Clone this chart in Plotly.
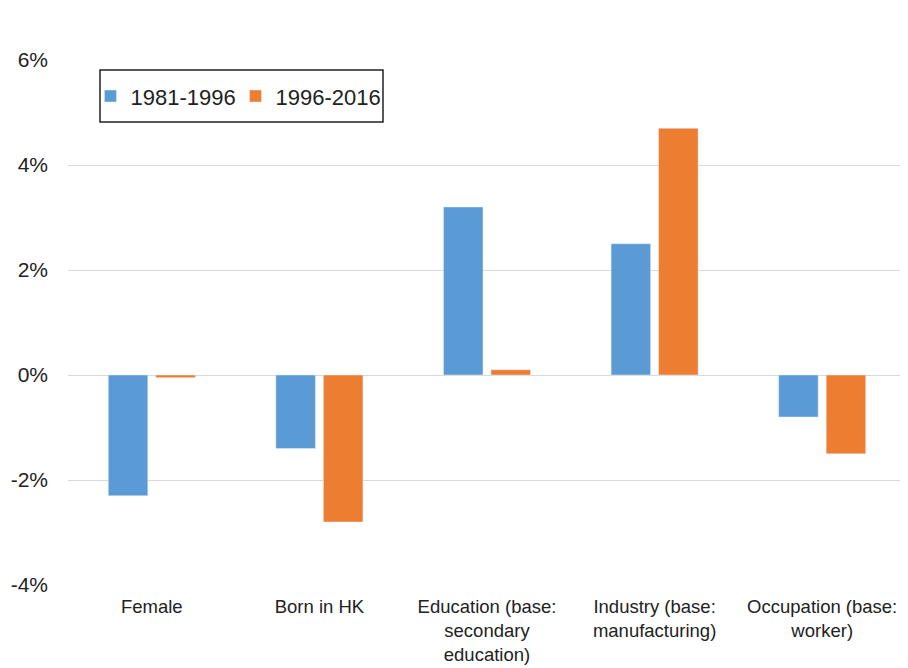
import plotly.graph_objects as go

categories = ["Female", "Born in HK", "Education (base:<br>secondary<br>education)",
              "Industry (base:<br>manufacturing)", "Occupation (base:<br>worker)"]
series_1981_1996 = [-0.023, -0.014, 0.032, 0.025, -0.008]
series_1996_2016 = [-0.0005, -0.028, 0.001, 0.047, -0.015]
tick_vals = [-0.04, -0.02, 0.0, 0.02, 0.04, 0.06]
tick_text = ["-4%", "-2%", "0%", "2%", "4%", "6%"]

fig = go.Figure()
fig.add_trace(go.Bar(name="1981-1996", x=categories, y=series_1981_1996, marker_color="#5B9BD5"))
fig.add_trace(go.Bar(name="1996-2016", x=categories, y=series_1996_2016, marker_color="#ED7D31"))

fig.update_layout(
    width=900, height=660,
    margin=dict(l=60, r=2, t=52, b=83, autoexpand=False),
    paper_bgcolor="white", plot_bgcolor="white",
    barmode="group", bargap=0.433, bargroupgap=0.168,
    font=dict(family="Liberation Sans, Arial, sans-serif", color="#222222"),
    legend=dict(orientation="h", x=0.0268, y=0.931, xanchor="left", yanchor="middle",
                borderwidth=0, bgcolor="rgba(0,0,0,0)",
                font=dict(size=22), itemwidth=30, entrywidth=100),
    showlegend=True,
    shapes=[dict(type="rect", xref="paper", yref="paper",
                 x0=0.0382, x1=0.3759, y0=0.8819, y1=0.981,
                 line=dict(color="#222222", width=1.5), fillcolor="white", layer="below")],
)
fig.update_yaxes(range=[-0.04, 0.06], tickvals=tick_vals, ticktext=tick_text,
                 showgrid=True, gridcolor="#D9D9D9", gridwidth=1,
                 zeroline=True, zerolinecolor="#D9D9D9", zerolinewidth=1,
                 tickfont=dict(size=21), ticks="", ticklen=0, showline=False,
                 ticklabelstandoff=19)
fig.update_xaxes(tickfont=dict(size=18.5), showline=False, ticks="",
                 ticklabelstandoff=8)

fig.write_html("out.html")
